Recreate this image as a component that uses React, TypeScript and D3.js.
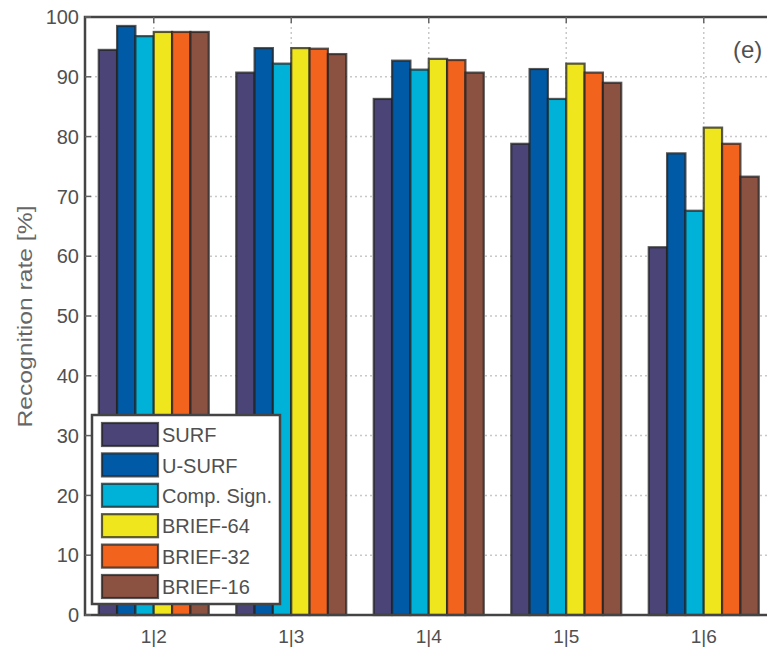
import React, { useEffect, useRef } from "react";
import * as d3 from "d3";

// ratios on the x axis
const categories = ["1|2", "1|3", "1|4", "1|5", "1|6"];

const seriesNames = ["SURF", "U-SURF", "Comp. Sign.", "BRIEF-64", "BRIEF-32", "BRIEF-16"];
const seriesColors = ["#4b4577", "#005aa5", "#00b2d8", "#f0e61e", "#f2641e", "#8b5242"];

// recognition rate [%] per series, one value per category
const surf = [94.5, 90.7, 86.3, 78.8, 61.5];
const uSurf = [98.5, 94.8, 92.7, 91.3, 77.2];
const compSign = [96.8, 92.2, 91.2, 86.3, 67.6];
const brief64 = [97.5, 94.8, 93.0, 92.2, 81.5];
const brief32 = [97.5, 94.7, 92.8, 90.7, 78.8];
const brief16 = [97.5, 93.8, 90.7, 89.0, 73.3];

const yTicks = [0, 10, 20, 30, 40, 50, 60, 70, 80, 90, 100];

const App = () => {
  const chartRef = useRef<SVGSVGElement | null>(null);

  useEffect(() => {
    drawChart();
  }, []);

  const drawChart = () => {
    const W = 767, H = 648;
    const left = 85, right = 772.5, top = 17, bottom = 615;
    const font = "'Liberation Sans', Arial, sans-serif";
    const textColor = "#505050";

    const values = [surf, uSurf, compSign, brief64, brief32, brief16];

    const svg = d3.select(chartRef.current);
    svg.selectAll("*").remove();
    svg.attr("width", W).attr("height", H);

    const x = d3.scaleBand<string>().domain(categories).range([left, right]).padding(0);
    const inner = d3.scaleBand<number>()
      .domain(d3.range(seriesNames.length))
      .range([0, x.bandwidth() * 0.8]);
    const y = d3.scaleLinear().domain([0, 100]).range([bottom, top]);

    // dotted grid
    const grid = svg.append("g").attr("stroke", "#c8c8c8").attr("stroke-width", 1.5)
      .attr("stroke-dasharray", "2,3");
    grid.selectAll("line.h")
      .data(yTicks.filter(t => t > 0 && t < 100))
      .join("line")
      .attr("x1", left).attr("x2", right)
      .attr("y1", d => y(d)).attr("y2", d => y(d));
    grid.selectAll("line.v")
      .data(categories)
      .join("line")
      .attr("x1", d => x(d)! + x.bandwidth() / 2)
      .attr("x2", d => x(d)! + x.bandwidth() / 2)
      .attr("y1", top).attr("y2", bottom);

    // bars
    const groups = svg.append("g")
      .selectAll("g")
      .data(categories)
      .join("g")
      .attr("transform", d => `translate(${x(d)! + x.bandwidth() * 0.1},0)`);

    groups.selectAll("rect")
      .data((c, ci) => values.map((s, si) => ({ si, v: s[ci] })))
      .join("rect")
      .attr("x", d => inner(d.si)!)
      .attr("width", inner.bandwidth())
      .attr("y", d => y(d.v))
      .attr("height", d => y(0) - y(d.v))
      .attr("fill", d => seriesColors[d.si])
      .attr("stroke", "#222")
      .attr("stroke-opacity", 0.75)
      .attr("stroke-width", 2.2);

    // axes box
    svg.append("rect")
      .attr("x", left).attr("y", top)
      .attr("width", right - left).attr("height", bottom - top)
      .attr("fill", "none")
      .attr("stroke", "#444")
      .attr("stroke-width", 2.5);

    // y ticks (inside, MATLAB style)
    const yAxis = svg.append("g");
    yAxis.selectAll("line")
      .data(yTicks)
      .join("line")
      .attr("x1", left).attr("x2", left + 6)
      .attr("y1", d => y(d)).attr("y2", d => y(d))
      .attr("stroke", "#666").attr("stroke-width", 1.5);
    yAxis.selectAll("text")
      .data(yTicks)
      .join("text")
      .attr("x", left - 6)
      .attr("y", d => y(d))
      .attr("dy", "0.36em")
      .attr("text-anchor", "end")
      .style("font-family", font)
      .style("font-size", "20px")
      .attr("fill", textColor)
      .text(d => d);

    // x ticks
    const xAxis = svg.append("g");
    xAxis.selectAll("line.t")
      .data(categories)
      .join("line")
      .attr("x1", d => x(d)! + x.bandwidth() / 2)
      .attr("x2", d => x(d)! + x.bandwidth() / 2)
      .attr("y1", top).attr("y2", top + 6)
      .attr("stroke", "#666").attr("stroke-width", 1.5);
    xAxis.selectAll("text")
      .data(categories)
      .join("text")
      .attr("x", d => x(d)! + x.bandwidth() / 2)
      .attr("y", bottom + 28)
      .attr("text-anchor", "middle")
      .style("font-family", font)
      .style("font-size", "19px")
      .attr("fill", textColor)
      .text(d => d);

    // y axis label
    svg.append("text")
      .attr("transform", `translate(32,${(205 + 428) / 2}) rotate(-90)`)
      .attr("text-anchor", "middle")
      .style("font-family", font)
      .style("font-size", "20px")
      .attr("fill", "#666")
      .attr("textLength", 222)
      .attr("lengthAdjust", "spacingAndGlyphs")
      .text("Recognition rate [%]");

    // panel letter
    svg.append("text")
      .attr("x", 733)
      .attr("y", 58)
      .style("font-family", font)
      .style("font-size", "24px")
      .attr("fill", "#505050")
      .text("(e)");

    // legend
    const legend = svg.append("g");
    legend.append("rect")
      .attr("x", 92).attr("y", 415)
      .attr("width", 188).attr("height", 189)
      .attr("fill", "#fff")
      .attr("stroke", "#444")
      .attr("stroke-width", 2.5);
    const rows = legend.selectAll("g")
      .data(seriesNames)
      .join("g")
      .attr("transform", (d, i) => `translate(0,${423 + i * 30.4})`);
    rows.append("rect")
      .attr("x", 102).attr("y", 0)
      .attr("width", 56).attr("height", 23)
      .attr("fill", (d, i) => seriesColors[i])
      .attr("stroke", "#222")
      .attr("stroke-opacity", 0.75)
      .attr("stroke-width", 2.2);
    rows.append("text")
      .attr("x", 162)
      .attr("y", 12)
      .attr("dy", "0.36em")
      .style("font-family", font)
      .style("font-size", "20px")
      .attr("fill", textColor)
      .text(d => d);
  };

  return (
    <svg ref={chartRef} style={{ position: "absolute", left: 0, top: 0, background: "#fff" }} />
  );
};

export default App;
